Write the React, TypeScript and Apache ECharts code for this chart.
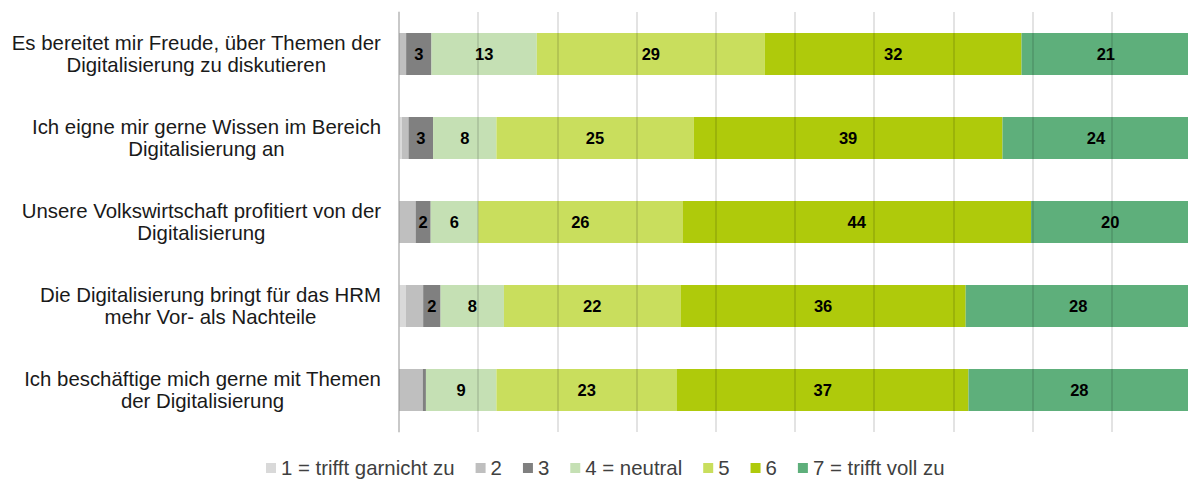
import React, { useEffect, useRef } from "react";
import * as echarts from "echarts";

const categories = [
  "Es bereitet mir Freude, über Themen der\nDigitalisierung zu diskutieren",
  "Ich eigne mir gerne Wissen im Bereich\nDigitalisierung an",
  "Unsere Volkswirtschaft profitiert von der\nDigitalisierung",
  "Die Digitalisierung bringt für das HRM\nmehr Vor- als Nachteile",
  "Ich beschäftige mich gerne mit Themen\nder Digitalisierung",
];

const seriesNames = [
  "1 = trifft garnicht zu",
  "2",
  "3",
  "4 = neutral",
  "5",
  "6",
  "7 = trifft voll zu",
];

const s1 = [0, 0.35, 0, 0.85, 0];
const s2 = [0.9, 0.85, 2.1, 2.2, 3.0];
const s3 = [3.2, 3.1, 1.9, 2.2, 0.4];
const s4 = [13.3, 8.0, 6.0, 8.0, 8.9];
const s5 = [28.8, 24.9, 25.8, 22.3, 22.8];
const s6 = [32.4, 39.0, 44.0, 36.0, 36.8];
const s7 = [21.3, 23.6, 20.0, 28.4, 28.0];

const seriesValues = [s1, s2, s3, s4, s5, s6, s7];
const colors = ["#d9d9d9", "#bfbfbf", "#808080", "#c5e0b4", "#c9de5d", "#afca0b", "#5eaf7b"];
const labeled = [false, false, true, true, true, true, true];

const FONT = "'Liberation Sans', Arial, sans-serif";

export default function App() {
  const ref = useRef<HTMLDivElement>(null);
  useEffect(() => {
    document.body.style.margin = "0";
    document.body.style.overflow = "hidden";
    const chart = echarts.init(ref.current!, null, { renderer: "svg" });
    chart.setOption({
      animation: false,
      textStyle: { fontFamily: FONT },
      grid: {
        left: 399,
        top: 12,
        width: 792,
        height: 420,
        containLabel: false,
        outerBoundsMode: "none",
      },
      legend: {
        left: 266,
        top: 458,
        padding: 0,
        itemWidth: 10,
        itemHeight: 10,
        itemGap: 21,
        icon: "rect",
        textStyle: { fontSize: 20.4, color: "#404040", fontFamily: FONT },
        data: seriesNames,
      },
      xAxis: {
        type: "value",
        min: 0,
        max: 100,
        interval: 10,
        z: 3,
        axisLabel: { show: false },
        axisLine: { show: false },
        axisTick: { show: false },
        splitLine: { show: true, lineStyle: { color: "rgba(0,0,0,0.15)", width: 1.5 } },
      },
      yAxis: {
        type: "category",
        inverse: true,
        data: categories,
        axisTick: { show: false },
        axisLine: { show: true, lineStyle: { color: "#d9d9d9", width: 1.5 } },
        axisLabel: {
          margin: 18,
          align: "right",
          formatter: (v: string) =>
            v
              .split("\n")
              .map((l) => `{c|${l}}`)
              .join("\n"),
          rich: {
            c: {
              align: "center",
              fontSize: 20.4,
              lineHeight: 22,
              color: "#1a1a1a",
              fontFamily: FONT,
            },
          },
        },
      },
      series: seriesValues.map((vals, i) => ({
        name: seriesNames[i],
        type: "bar",
        stack: "total",
        barWidth: "50%",
        data: vals,
        itemStyle: { color: colors[i] },
        label: {
          show: labeled[i],
          position: "inside",
          fontSize: 16.5,
          fontWeight: "bold",
          color: "#000",
          fontFamily: FONT,
          formatter: (p: any) => (p.value >= 1.5 ? String(Math.round(p.value)) : ""),
        },
      })),
    });
    return () => chart.dispose();
  }, []);
  return <div ref={ref} style={{ width: 1188, height: 480 }} />;
}
